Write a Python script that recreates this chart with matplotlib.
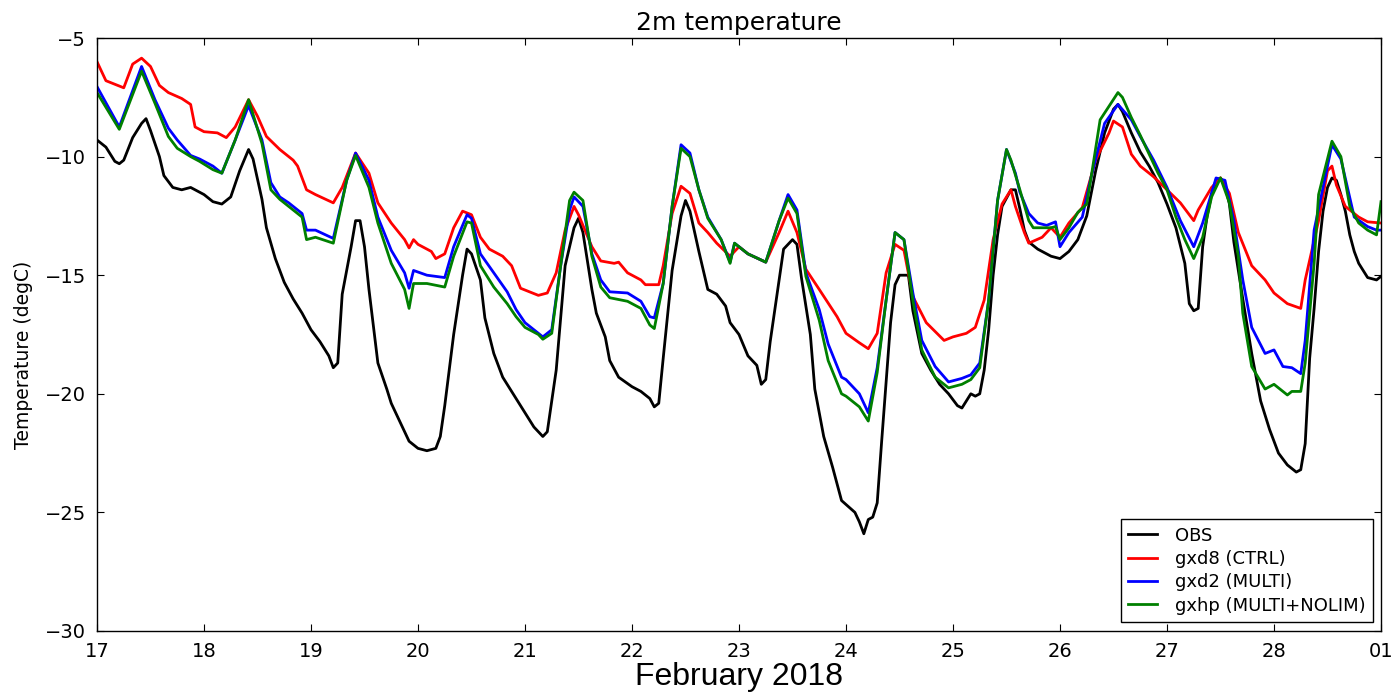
#!/usr/bin/env python3
"""
2m temperature: observations vs. three model runs, 17 Feb - 01 Mar 2018.
"""

import pandas as pd
import matplotlib
matplotlib.use("Agg")
import matplotlib.pyplot as plt
import matplotlib.dates as mdates

START = pd.Timestamp("2018-02-17")
END = pd.Timestamp("2018-03-01")

# Hours since 17 Feb 00 UTC and temperature (degC)
obs_hours = [0, 2, 4, 5, 6, 8, 10, 11, 12, 14, 15, 17, 19, 21, 23, 24, 26, 28, 30, 32,
             34, 35, 37, 38, 40, 42, 44, 46, 48, 50, 52, 53, 54, 55, 57, 58, 59, 60, 61, 63,
             65, 66, 68, 70, 72, 74, 76, 77, 78, 80, 82, 83, 84, 86, 87, 89, 91, 93, 96, 98,
             100, 101, 103, 105, 107, 108, 109, 111, 112, 114, 115, 117, 120, 122, 124, 125, 126, 127, 129, 131,
             132, 133, 135, 137, 139, 141, 142, 144, 146, 148, 149, 150, 151, 153, 154, 156, 157, 158, 160, 161,
             163, 165, 167, 170, 171, 172, 173, 174, 175, 176, 178, 179, 180, 182, 183, 185, 187, 189, 191, 193,
             194, 195, 196, 197, 198, 199, 200, 201, 202, 203, 205, 206, 207, 208, 209, 211, 214, 216, 218, 220,
             222, 224, 226, 228, 229, 230, 232, 234, 236, 238, 240, 242, 244, 245, 246, 247, 248, 249, 250, 251,
             252, 253, 254, 255, 257, 259, 261, 263, 265, 267, 269, 270, 271, 272, 273, 274, 275, 276, 277, 278,
             279, 280, 281, 282, 283, 285, 287, 288]
obs_temp = [-9.3, -9.6, -10.2, -10.3, -10.15, -9.2, -8.6, -8.4, -8.9, -10.0, -10.8, -11.3, -11.4, -11.3, -11.5, -11.6, -11.9, -12.0, -11.7, -10.6,
            -9.7, -10.1, -11.8, -13.0, -14.3, -15.3, -16.0, -16.6, -17.3, -17.8, -18.4, -18.9, -18.7, -15.8, -13.8, -12.7, -12.7, -13.8, -15.6, -18.7,
            -19.8, -20.4, -21.2, -22.0, -22.3, -22.4, -22.3, -21.8, -20.5, -17.5, -15.0, -13.9, -14.1, -15.2, -16.8, -18.3, -19.3, -19.9, -20.8, -21.4,
            -21.8, -21.6, -19.0, -14.6, -13.0, -12.6, -13.2, -15.6, -16.6, -17.6, -18.6, -19.3, -19.7, -19.9, -20.2, -20.55, -20.4, -18.5, -14.8, -12.5,
            -11.85, -12.3, -14.0, -15.6, -15.8, -16.3, -17.0, -17.5, -18.4, -18.8, -19.6, -19.4, -17.8, -15.2, -13.9, -13.5, -13.7, -15.1, -17.5, -19.8,
            -21.8, -23.1, -24.5, -25.0, -25.4, -25.9, -25.3, -25.2, -24.6, -22.0, -17.0, -15.4, -15.0, -15.0, -16.5, -18.3, -19.0, -19.6, -20.0, -20.5,
            -20.6, -20.3, -20.0, -20.1, -20.0, -19.0, -17.3, -15.0, -13.3, -12.1, -11.4, -11.4, -12.2, -13.1, -13.6, -13.9, -14.2, -14.3, -14.0, -13.5,
            -12.5, -10.6, -9.0, -8.0, -7.8, -8.1, -9.0, -9.8, -10.4, -11.1, -12.0, -13.0, -14.5, -16.2, -16.5, -16.4, -13.8, -12.5, -11.6, -11.0,
            -10.9, -11.2, -12.0, -13.6, -16.0, -18.3, -20.3, -21.5, -22.5, -23.0, -23.3, -23.2, -22.1, -18.5, -16.4, -14.0, -12.3, -11.3, -10.9, -11.0,
            -11.6, -12.3, -13.3, -14.0, -14.5, -15.1, -15.2, -15.05]

ctrl_hours = [0, 2, 6, 8, 10, 12, 14, 16, 19, 21, 22, 24, 27, 29, 31, 34, 36, 38, 41, 44,
              45, 47, 49, 53, 55, 58, 61, 63, 66, 69, 70, 71, 72, 75, 76, 78, 80, 82, 84, 86,
              88, 91, 93, 95, 97, 99, 101, 103, 105, 107, 108, 111, 113, 116, 117, 119, 122, 123, 126, 127,
              129, 131, 133, 135, 137, 139, 142, 144, 146, 150, 153, 155, 157, 159, 162, 166, 168, 171, 173, 175,
              177, 179, 181, 183, 186, 190, 192, 195, 197, 199, 201, 203, 205, 206, 208, 209, 212, 214, 216, 218,
              221, 224, 227, 228, 230, 232, 234, 237, 240, 243, 246, 247, 250, 252, 254, 256, 259, 262, 264, 267,
              270, 271, 274, 276, 277, 278, 280, 283, 285, 288]
ctrl_temp = [-6.0, -6.8, -7.1, -6.1, -5.85, -6.2, -7.0, -7.3, -7.55, -7.8, -8.75, -8.95, -9.0, -9.2, -8.75, -7.6, -8.3, -9.15, -9.7, -10.15,
             -10.4, -11.4, -11.6, -11.95, -11.3, -9.85, -10.7, -11.95, -12.8, -13.5, -13.85, -13.5, -13.7, -14.0, -14.3, -14.1, -13.0, -12.3, -12.45, -13.4,
             -13.9, -14.2, -14.6, -15.55, -15.7, -15.85, -15.75, -14.9, -13.1, -12.1, -12.45, -13.8, -14.4, -14.5, -14.45, -14.9, -15.2, -15.4, -15.4, -14.6,
             -12.4, -11.25, -11.55, -12.8, -13.2, -13.65, -14.2, -13.8, -14.1, -14.45, -13.2, -12.3, -13.2, -14.75, -15.6, -16.75, -17.45, -17.85, -18.1, -17.45,
             -14.9, -13.7, -13.95, -15.9, -17.0, -17.75, -17.6, -17.45, -17.2, -16.05, -13.5, -12.0, -11.4, -12.1, -13.2, -13.65, -13.4, -13.0, -13.4, -12.8,
             -12.15, -10.15, -9.0, -8.5, -8.75, -9.9, -10.4, -10.85, -11.4, -11.95, -12.7, -12.25, -11.3, -10.9, -11.55, -13.2, -14.6, -15.2, -15.75, -16.2,
             -16.4, -15.2, -12.7, -10.6, -10.4, -11.2, -12.1, -12.55, -12.75, -12.8]

multi_hours = [0, 5, 10, 13, 16, 18, 21, 23, 26, 28, 31, 34, 37, 39, 41, 43, 46, 47, 49, 53,
               56, 58, 61, 63, 66, 69, 70, 71, 74, 78, 80, 83, 84, 86, 89, 92, 94, 96, 99, 100,
               102, 104, 106, 107, 109, 111, 113, 115, 119, 122, 124, 125, 127, 129, 131, 133, 135, 137, 140, 142,
               143, 146, 150, 153, 155, 157, 159, 162, 164, 167, 168, 171, 173, 175, 177, 179, 181, 183, 185, 188,
               191, 194, 196, 198, 200, 202, 204, 206, 207, 209, 211, 213, 215, 216, 218, 221, 223, 226, 229, 232,
               234, 237, 240, 243, 246, 248, 251, 253, 255, 257, 259, 262, 264, 266, 268, 270, 271, 273, 276, 277,
               279, 282, 285, 287, 288]
multi_temp = [-7.05, -8.75, -6.2, -7.6, -8.8, -9.3, -9.95, -10.1, -10.4, -10.7, -9.3, -7.85, -9.3, -11.1, -11.7, -11.95, -12.4, -13.1, -13.1, -13.45,
              -11.0, -9.85, -11.0, -12.55, -13.95, -14.9, -15.55, -14.8, -15.0, -15.1, -13.8, -12.45, -12.6, -14.1, -14.9, -15.7, -16.45, -17.0, -17.45, -17.6,
              -17.3, -14.6, -12.25, -11.7, -12.1, -14.1, -15.2, -15.7, -15.75, -16.1, -16.75, -16.8, -15.35, -12.1, -9.5, -9.85, -11.4, -12.55, -13.5, -14.45,
              -13.65, -14.1, -14.45, -12.7, -11.6, -12.25, -14.9, -16.45, -17.9, -19.3, -19.4, -20.0, -20.8, -18.9, -16.05, -13.2, -13.5, -15.75, -17.75, -18.85,
              -19.5, -19.35, -19.2, -18.7, -16.05, -11.85, -9.7, -10.7, -11.5, -12.4, -12.8, -12.9, -12.75, -13.8, -13.2, -12.55, -10.85, -8.6, -7.8, -8.45,
              -9.15, -10.15, -11.3, -12.7, -13.8, -12.8, -10.9, -11.0, -12.7, -15.2, -17.2, -18.3, -18.15, -18.85, -18.9, -19.15, -17.75, -13.1, -10.4, -9.5,
              -10.1, -12.55, -12.95, -13.1, -13.1]

nolim_hours = [0, 5, 10, 13, 16, 18, 21, 23, 26, 28, 31, 34, 37, 39, 41, 43, 46, 47, 49, 53,
               56, 58, 61, 63, 66, 69, 70, 71, 74, 78, 80, 83, 84, 86, 89, 92, 94, 96, 99, 100,
               102, 104, 106, 107, 109, 111, 113, 115, 119, 122, 124, 125, 127, 129, 131, 133, 135, 137, 140, 142,
               143, 146, 150, 153, 155, 157, 159, 162, 164, 167, 168, 171, 173, 175, 177, 179, 181, 183, 185, 188,
               191, 194, 196, 198, 200, 202, 204, 205, 207, 209, 210, 214, 215, 216, 218, 220, 222, 223, 225, 229,
               230, 232, 234, 236, 238, 240, 242, 244, 246, 248, 250, 252, 254, 256, 257, 259, 262, 264, 267, 268,
               270, 271, 273, 274, 277, 279, 281, 283, 285, 287, 288]
nolim_temp = [-7.3, -8.85, -6.4, -7.75, -9.15, -9.65, -10.0, -10.2, -10.55, -10.7, -9.3, -7.6, -9.45, -11.4, -11.8, -12.1, -12.55, -13.5, -13.4, -13.65,
              -11.0, -9.95, -11.3, -12.8, -14.5, -15.6, -16.4, -15.35, -15.35, -15.5, -14.2, -12.75, -12.8, -14.6, -15.5, -16.2, -16.75, -17.2, -17.5, -17.7,
              -17.45, -14.6, -11.85, -11.5, -11.85, -14.2, -15.5, -15.95, -16.1, -16.4, -17.1, -17.25, -15.35, -12.1, -9.65, -10.0, -11.4, -12.6, -13.5, -14.5,
              -13.65, -14.1, -14.45, -12.7, -11.75, -12.4, -15.05, -16.9, -18.6, -20.0, -20.1, -20.55, -21.15, -19.1, -16.05, -13.2, -13.5, -16.05, -18.15, -19.3,
              -19.75, -19.6, -19.4, -18.9, -16.05, -11.85, -9.7, -10.15, -11.4, -12.7, -13.0, -13.0, -12.95, -13.5, -13.0, -12.35, -12.0, -10.85, -8.45, -7.3,
              -7.5, -8.35, -9.1, -9.9, -10.7, -11.4, -12.55, -13.5, -14.3, -13.4, -11.7, -10.9, -11.95, -14.2, -16.6, -18.85, -19.8, -19.6, -20.05, -19.9,
              -19.9, -18.7, -14.5, -11.6, -9.35, -10.0, -12.1, -12.8, -13.1, -13.3, -11.9]

SERIES = [
    ("OBS", obs_hours, obs_temp, "k"),
    ("gxd8 (CTRL)", ctrl_hours, ctrl_temp, "r"),
    ("gxd2 (MULTI)", multi_hours, multi_temp, "b"),
    ("gxhp (MULTI+NOLIM)", nolim_hours, nolim_temp, "g"),
]


def to_dates(hours):
    """Turn hours since the start into timestamps."""
    return START + pd.to_timedelta(hours, unit="h")


def make_plot():
    """Draw the temperature time series in the old matplotlib look."""
    plt.rcParams["font.family"] = "DejaVu Sans"
    plt.rcParams["xtick.direction"] = "in"
    plt.rcParams["ytick.direction"] = "in"
    plt.rcParams["xtick.top"] = True
    plt.rcParams["ytick.right"] = True
    plt.rcParams["xtick.major.size"] = 5
    plt.rcParams["ytick.major.size"] = 5

    fig = plt.figure(figsize=(13.95, 6.92), dpi=100)
    ax = fig.add_axes([97 / 1395, 1 - 631 / 692, 1284 / 1395, 593 / 692])

    for label, hours, temp, color in SERIES:
        ax.plot(to_dates(hours), temp, color=color, lw=2, label=label)

    ax.set_xlim(START, END)
    ax.set_ylim(-30, -5)
    ax.set_yticks(range(-30, -4, 5))
    ax.xaxis.set_major_locator(mdates.DayLocator())
    ax.xaxis.set_major_formatter(mdates.DateFormatter("%d"))
    ax.tick_params(labelsize=14, pad=8)

    for spine in ax.spines.values():
        spine.set_linewidth(1.0)

    ax.set_title("2m temperature", fontsize=18, pad=6)
    ax.set_ylabel("Temperature (degC)", fontsize=13.5)
    ax.yaxis.set_label_coords(-0.05, 0.465)
    ax.set_xlabel("February 2018", fontsize=23, labelpad=1,
                  family=["Liberation Sans", "DejaVu Sans"])

    leg = ax.legend(loc="lower right", bbox_to_anchor=(0.9938, 0.0152),
                    borderaxespad=0, fontsize=13, fancybox=False,
                    framealpha=1, edgecolor="black", handlelength=1.6,
                    handletextpad=1.0, labelspacing=0.3, borderpad=0.4)
    leg.get_frame().set_linewidth(1.0)

    fig.savefig("out.png", dpi=100)


if __name__ == "__main__":
    make_plot()
